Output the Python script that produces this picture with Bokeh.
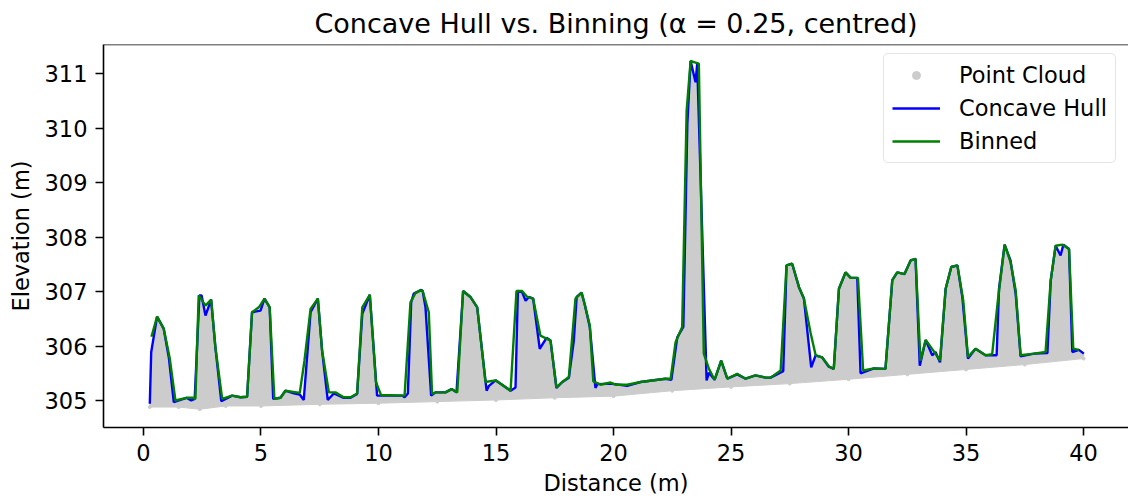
from bokeh.plotting import figure
from bokeh.models import Range1d, FixedTicker, Span, Legend, LegendItem
from bokeh.embed import file_html
from bokeh.resources import INLINE

# Upper envelope of the point cloud (concave hull), distance (m) / elevation (m)
hull_x = [0.27, 0.33, 0.58, 0.86, 1.08, 1.29, 1.83, 2.03, 2.18, 2.38,
          2.47, 2.64, 2.88, 3.06, 3.31, 3.77, 4.13, 4.41, 4.62, 4.98,
          5.15, 5.37, 5.52, 5.83, 6.04, 6.40, 6.65, 6.82, 7.11, 7.42,
          7.60, 7.84, 8.10, 8.52, 8.81, 9.09, 9.31, 9.63, 9.94, 11.01,
          11.11, 11.25, 11.39, 11.50, 11.82, 11.88, 12.00, 12.24, 12.43, 12.85,
          13.11, 13.32, 13.60, 13.91, 14.20, 14.60, 14.70, 14.98, 15.62, 15.83,
          15.93, 16.11, 16.26, 16.40, 16.58, 16.86, 17.15, 17.32, 17.57, 17.82,
          18.10, 18.31, 18.43, 18.64, 18.77, 18.99, 19.23, 19.31, 19.87, 20.58,
          21.15, 22.21, 22.46, 22.71, 22.97, 23.14, 23.28, 23.49, 23.56, 23.96,
          24.06, 24.30, 24.58, 24.84, 25.26, 25.62, 26.04, 26.47, 26.68, 27.22,
          27.36, 27.60, 27.89, 28.10, 28.41, 28.60, 28.88, 29.16, 29.37, 29.59,
          29.87, 30.09, 30.37, 30.51, 31.08, 31.57, 31.86, 32.07, 32.38, 32.64,
          32.85, 33.03, 33.28, 33.56, 33.70, 33.89, 34.13, 34.37, 34.63, 34.84,
          35.08, 35.40, 35.83, 36.30, 36.40, 36.64, 36.89, 37.11, 37.32, 37.89,
          38.46, 38.60, 38.81, 39.02, 39.14, 39.38, 39.52, 39.80, 40.01]
hull_y = [304.94, 305.89, 306.54, 306.32, 305.79, 304.97, 305.05, 305.00, 305.03, 306.93,
          306.93, 306.56, 306.85, 305.98, 304.99, 305.09, 305.06, 305.07, 306.62, 306.65,
          306.87, 306.71, 305.03, 305.05, 305.18, 305.13, 305.11, 305.01, 306.62, 306.87,
          305.92, 305.01, 305.13, 305.05, 305.05, 305.12, 306.59, 306.94, 305.09, 305.09,
          305.06, 305.13, 306.80, 306.96, 307.03, 307.01, 306.71, 305.09, 305.15, 305.15,
          305.21, 305.15, 307.01, 306.90, 306.71, 305.18, 305.27, 305.37, 305.18, 305.24,
          307.01, 306.99, 306.83, 306.90, 306.87, 305.95, 306.15, 306.10, 305.23, 305.34,
          305.42, 306.10, 306.90, 306.98, 306.77, 306.35, 305.23, 305.30, 305.31, 305.27,
          305.34, 305.40, 305.38, 306.16, 306.35, 310.08, 311.23, 310.84, 311.18, 305.37,
          305.51, 305.38, 305.73, 305.40, 305.48, 305.40, 305.46, 305.42, 305.42, 305.54,
          307.48, 307.51, 307.08, 306.87, 305.61, 305.83, 305.79, 305.62, 305.58, 307.05,
          307.35, 307.25, 307.25, 305.50, 305.59, 305.58, 307.21, 307.35, 307.32, 307.57,
          307.60, 305.64, 306.11, 305.83, 305.89, 305.70, 307.05, 307.45, 307.48, 306.90,
          305.77, 305.95, 305.83, 305.83, 307.05, 307.86, 307.57, 306.96, 305.81, 305.86,
          305.87, 307.20, 307.84, 307.66, 307.86, 307.78, 305.89, 305.93, 305.86]

# Binned maximum elevation, centred bins
bin_x = [0.34, 0.58, 0.86, 1.12, 1.36, 1.83, 2.11, 2.21, 2.35, 2.64,
         2.88, 3.06, 3.35, 3.77, 4.13, 4.41, 4.62, 4.91, 5.15, 5.37,
         5.57, 5.83, 6.04, 6.65, 6.85, 7.11, 7.42, 7.60, 7.89, 8.17,
         8.52, 8.81, 9.09, 9.31, 9.63, 9.89, 10.11, 11.11, 11.36, 11.57,
         11.79, 11.88, 12.14, 12.28, 12.43, 12.85, 13.11, 13.35, 13.60, 13.91,
         14.20, 14.55, 14.98, 15.62, 15.87, 16.11, 16.33, 16.58, 16.89, 17.32,
         17.57, 17.82, 18.10, 18.38, 18.64, 18.77, 18.99, 19.14, 19.45, 19.87,
         20.09, 20.58, 21.15, 22.21, 22.43, 22.64, 22.92, 23.11, 23.28, 23.42,
         23.63, 23.84, 24.06, 24.30, 24.58, 24.84, 25.26, 25.62, 26.04, 26.47,
         26.68, 27.11, 27.36, 27.60, 27.89, 28.10, 28.38, 28.60, 28.88, 29.16,
         29.37, 29.59, 29.87, 30.09, 30.40, 30.62, 31.08, 31.57, 31.86, 32.07,
         32.38, 32.64, 32.85, 33.06, 33.28, 33.70, 33.89, 34.13, 34.37, 34.63,
         34.88, 35.08, 35.40, 35.83, 36.11, 36.35, 36.64, 36.89, 37.11, 37.32,
         37.89, 38.38, 38.60, 38.81, 39.10, 39.38, 39.56, 39.80]
bin_y = [306.17, 306.54, 306.32, 305.77, 305.00, 305.05, 305.05, 305.03, 306.93, 306.74,
         306.85, 305.98, 305.03, 305.09, 305.06, 305.07, 306.62, 306.71, 306.87, 306.71,
         305.03, 305.05, 305.18, 305.14, 305.73, 306.68, 306.87, 305.92, 305.15, 305.15,
         305.06, 305.06, 305.13, 306.71, 306.94, 305.34, 305.10, 305.09, 306.80, 306.97,
         307.02, 307.01, 306.62, 305.12, 305.15, 305.15, 305.21, 305.15, 307.01, 306.90,
         306.71, 305.34, 305.37, 305.18, 307.01, 307.01, 306.90, 306.87, 306.19, 306.10,
         305.24, 305.34, 305.43, 306.87, 306.98, 306.77, 306.38, 305.35, 305.29, 305.33,
         305.29, 305.29, 305.34, 305.40, 305.40, 306.07, 306.35, 310.32, 311.23, 311.21,
         311.18, 305.86, 305.58, 305.38, 305.73, 305.40, 305.49, 305.40, 305.46, 305.42,
         305.42, 305.55, 307.48, 307.51, 307.08, 306.87, 306.25, 305.83, 305.79, 305.63,
         305.58, 307.05, 307.35, 307.25, 307.25, 305.55, 305.59, 305.58, 307.21, 307.35,
         307.32, 307.57, 307.60, 305.73, 306.11, 305.86, 305.73, 307.05, 307.45, 307.48,
         306.83, 305.80, 305.95, 305.83, 305.85, 306.83, 307.86, 307.54, 307.02, 305.83,
         305.86, 305.89, 307.20, 307.84, 307.86, 307.78, 305.95, 305.93]

# Lower edge of the point cloud (ground returns)
ground_x = [0.27, 1.5, 2.4, 3.5, 5.0, 7.5, 10.0, 12.5, 15.0, 17.5,
            20.0, 22.5, 25.0, 27.5, 30.0, 32.5, 35.0, 37.5, 40.0]
ground_y = [304.88, 304.88, 304.84, 304.90, 304.90, 304.93, 304.95, 304.98, 305.01, 305.05,
            305.08, 305.18, 305.25, 305.31, 305.39, 305.48, 305.57, 305.66, 305.77]

x_ticks = [0, 5, 10, 15, 20, 25, 30, 35, 40]
y_ticks = [305, 306, 307, 308, 309, 310, 311]

FONT = "DejaVu Sans"
CLOUD = "#cccccc"

p = figure(width=1128, height=499, output_backend="svg", toolbar_location=None,
           x_range=Range1d(-1.70, 41.91), y_range=Range1d(304.505, 311.532),
           min_border_left=103, min_border_right=0, min_border_top=44,
           min_border_bottom=72, background_fill_color="white",
           border_fill_color="white", outline_line_color=None)

p.title.text = "Concave Hull vs. Binning (α = 0.25, centred)"
p.title.align = "center"
p.title.text_font = FONT
p.title.text_font_size = "27px"
p.title.text_font_style = "normal"
p.title.text_color = "black"
p.title.standoff = 11

p.xgrid.visible = False
p.ygrid.visible = False

# cloud body: hull on top, ground returns underneath
cloud = p.patch(hull_x + ground_x[::-1], hull_y + ground_y[::-1],
                fill_color=CLOUD, line_color=CLOUD, line_width=1)
pts = p.scatter(ground_x, ground_y, size=3, color=CLOUD)

hull = p.line(hull_x, hull_y, line_color="#0000ff", line_width=2.4)
binned = p.line(bin_x, bin_y, line_color="#008000", line_width=2.4)

# top spine
p.add_layout(Span(location=311.532, dimension="width", line_color="black", line_width=1.6))

for ax in (p.xaxis[0], p.yaxis[0]):
    ax.axis_line_width = 1.6
    ax.axis_line_color = "black"
    ax.major_tick_line_width = 1.6
    ax.major_tick_line_color = "black"
    ax.major_tick_out = 8
    ax.major_tick_in = 0
    ax.minor_tick_line_color = None
    ax.major_label_text_font = FONT
    ax.major_label_text_font_size = "22.5px"
    ax.major_label_text_color = "black"
    ax.axis_label_text_font = FONT
    ax.axis_label_text_font_size = "22.5px"
    ax.axis_label_text_font_style = "normal"
    ax.axis_label_text_color = "black"

p.xaxis.ticker = FixedTicker(ticks=x_ticks)
p.yaxis.ticker = FixedTicker(ticks=y_ticks)
p.xaxis.axis_label = "Distance (m)"
p.yaxis.axis_label = "Elevation (m)"
p.xaxis.major_label_standoff = 8
p.xaxis.axis_label_standoff = 6
p.yaxis.major_label_standoff = 8
p.yaxis.axis_label_standoff = 8

legend = Legend(items=[
    LegendItem(label="Point Cloud", renderers=[pts]),
    LegendItem(label="Concave Hull", renderers=[hull]),
    LegendItem(label="Binned", renderers=[binned]),
], location=(780, 264))
legend.label_text_font = FONT
legend.label_text_font_size = "22.5px"
legend.label_text_color = "black"
legend.glyph_width = 48
legend.glyph_height = 20
legend.label_standoff = 19
legend.spacing = 7
legend.padding = 8
legend.margin = 0
legend.border_line_color = "#cccccc"
legend.border_line_width = 1.6
legend.background_fill_color = "white"
legend.background_fill_alpha = 0.8
if "border_radius" in Legend.properties():
    legend.border_radius = 5
p.add_layout(legend)

open("out.html", "w").write(file_html(p, INLINE))
